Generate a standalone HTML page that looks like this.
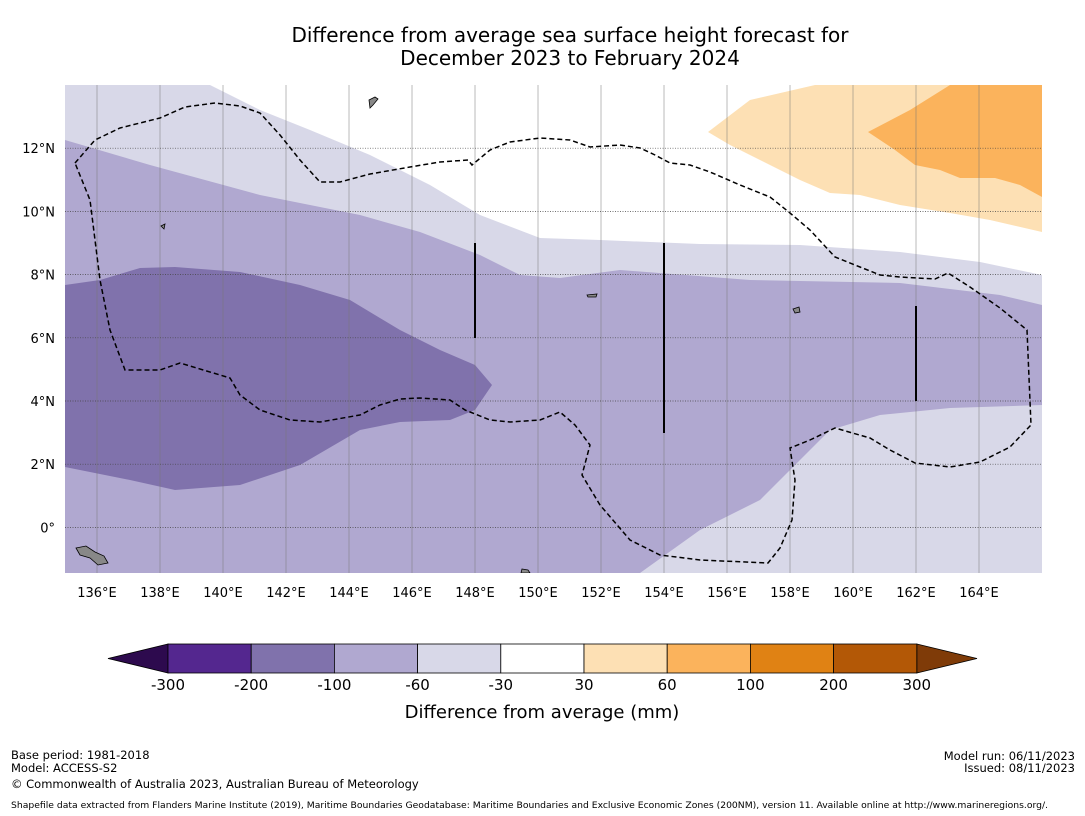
<!DOCTYPE html>
<html><head><meta charset="utf-8"><style>
body{margin:0;background:#fff;width:1085px;height:816px;overflow:hidden;font-family:"DejaVu Sans","Liberation Sans",sans-serif}
svg{display:block}
</style></head><body>
<svg width="1085" height="816" xmlns="http://www.w3.org/2000/svg" font-family="DejaVu Sans, Liberation Sans, sans-serif">
<text x="570" y="42" text-anchor="middle" font-size="20">Difference from average sea surface height forecast for</text>
<text x="570" y="65" text-anchor="middle" font-size="20">December 2023 to February 2024</text>
<defs><clipPath id="mc"><rect x="65" y="85" width="977" height="488"/></clipPath></defs>
<g id="map" clip-path="url(#mc)">
<rect x="65" y="85" width="977" height="488" fill="#ffffff"/>
<polygon fill="#d8d8e8" points="65,85 210,85 260,110 310,130 370,155 430,185 480,215 540,238 600,240 700,244 800,245 900,252 980,262 1042,275 1042,573 65,573"/>
<polygon fill="#b0a8d0" points="65,140 150,165 260,195 360,215 420,232 480,255 520,275 560,278 620,270 750,280 900,283 1000,295 1042,305 1042,405 950,408 880,415 830,430 800,460 760,500 700,530 640,573 65,573"/>
<polygon fill="#8072ac" points="65,285 100,280 140,268 175,267 240,272 300,285 350,300 400,330 440,350 475,365 492,385 475,410 450,420 400,422 360,430 300,465 240,485 175,490 130,480 65,467"/>
<polygon fill="#fde0b4" points="708,132 750,100 815,85 1042,85 1042,232 990,220 950,213 900,205 860,195 830,193 800,180 760,160 730,145"/>
<polygon fill="#fbb35c" points="868,132 910,110 950,85 1042,85 1042,197 1020,185 995,178 960,178 940,170 915,165 895,150"/>
<g id="grid"></g>
<polyline fill="none" stroke="#000" stroke-width="1.5" stroke-dasharray="5,3" points="75,163 95,140 120,128 160,118 185,107 215,103 240,106 260,113 280,135 300,160 320,182 340,182 370,174 410,167 440,162 468,160 472,165 490,150 510,142 540,138 570,140 590,147 620,145 640,148 655,155 670,163 690,165 710,172 740,185 770,197 790,213 810,230 835,257 860,267 880,275 900,277 935,279 948,273 970,287 1000,308 1027,330 1031,425 1010,447 980,462 950,467 915,463 890,450 870,438 835,428 810,440 790,448 795,480 792,520 780,548 768,563 700,560 660,555 630,540 600,505 582,475 590,445 575,425 560,412 540,420 510,422 490,420 465,410 450,400 420,398 400,399 380,405 360,415 320,422 290,420 260,410 240,395 230,378 180,363 160,370 125,370 110,330 100,280 95,240 90,200 75,163"/>
<line x1="475" y1="243" x2="475" y2="338" stroke="#000" stroke-width="2"/>
<line x1="664" y1="243" x2="664" y2="433" stroke="#000" stroke-width="2"/>
<line x1="916" y1="306" x2="916" y2="401" stroke="#000" stroke-width="2"/>
<g fill="#888" stroke="#000" stroke-width="0.8">
<polygon points="76,548 86,546 95,552 104,556 108,563 98,565 90,558 80,555"/>
<polygon points="369,100 375,97 378,99 373,105 370,108"/>
<polygon points="793,309 799,307 800,312 795,313"/>
<polygon points="522,569 528,570 530,573 521,573"/>
<polygon points="587,295 597,294 596,297 588,297"/>
<polygon points="161,226 165,224 164,229"/>
</g>
</g>
<g id="ticks"></g>
<g id="cbar"></g>
<text x="542" y="718" text-anchor="middle" font-size="18">Difference from average (mm)</text>
<g font-size="11.5">
<text x="11" y="759">Base period: 1981-2018</text>
<text x="11" y="772">Model: ACCESS-S2</text>
<text x="11" y="788">© Commonwealth of Australia 2023, Australian Bureau of Meteorology</text>
<text x="1075" y="760" text-anchor="end">Model run: 06/11/2023</text>
<text x="1075" y="772" text-anchor="end">Issued: 08/11/2023</text>
<text x="11" y="808" font-size="8.6" textLength="1037" lengthAdjust="spacingAndGlyphs">Shapefile data extracted from Flanders Marine Institute (2019), Maritime Boundaries Geodatabase: Maritime Boundaries and Exclusive Economic Zones (200NM), version 11. Available online at http://www.marineregions.org/.</text>
</g>
</svg>
<script>
const lonTicks=[136,138,140,142,144,146,148,150,152,154,156,158,160,162,164];
const latTicks=[12,10,8,6,4,2,0];
const levels=[-300,-200,-100,-60,-30,30,60,100,200,300];
const levelColors=["#54278f","#8072ac","#b0a8d0","#d8d8e8","#ffffff","#fde0b4","#fbb35c","#e08214","#b35806"];
const NS="http://www.w3.org/2000/svg";
const xLon=l=>65.5+(l-135)*31.5;
const yLat=l=>85+(14-l)*31.6;
function mk(t,a,p){const e=document.createElementNS(NS,t);for(const k in a)e.setAttribute(k,a[k]);p.appendChild(e);return e;}
const grid=document.getElementById('grid'),ticks=document.getElementById('ticks');
lonTicks.forEach(l=>{
 const ln=mk('line',{x1:xLon(l),x2:xLon(l),y1:85,y2:573,stroke:'#777','stroke-width':0.5},grid);
 
 
 const t=mk('text',{x:xLon(l),y:597,'text-anchor':'middle','font-size':13},ticks);t.textContent=l+'°E';
 
 
});
latTicks.forEach(l=>{
 const ln=mk('line',{x1:65,x2:1042,y1:yLat(l),y2:yLat(l),stroke:'#444','stroke-width':0.7,'stroke-dasharray':'1,1.5'},grid);
 
 
 const t=mk('text',{x:55,y:yLat(l)+5,'text-anchor':'end','font-size':13},ticks);t.textContent=l===0?'0°':l+'°N';
 
 
});
const cb=document.getElementById('cbar');
const x0=168,w=83.2,y0=644,h=29;
const tl=mk('polygon',{points:`108,${y0+h/2} ${x0},${y0} ${x0},${y0+h}`,fill:'#2d0a4e',stroke:'#000','stroke-width':0.8},cb);


const xe=x0+w*levelColors.length;
const tr=mk('polygon',{points:`${xe},${y0} 977,${y0+h/2} ${xe},${y0+h}`,fill:'#7f3b08',stroke:'#000','stroke-width':0.8},cb);


levelColors.forEach((c,i)=>{
 const r=mk('rect',{x:x0+i*w,y:y0,width:w,height:h,fill:c,stroke:'#000','stroke-width':0.8},cb);
 
 
});
levels.forEach((v,i)=>{
 const t=mk('text',{x:x0+i*w,y:690,'text-anchor':'middle','font-size':15},cb);t.textContent=v;
 
 
});
</script>
</body></html>
